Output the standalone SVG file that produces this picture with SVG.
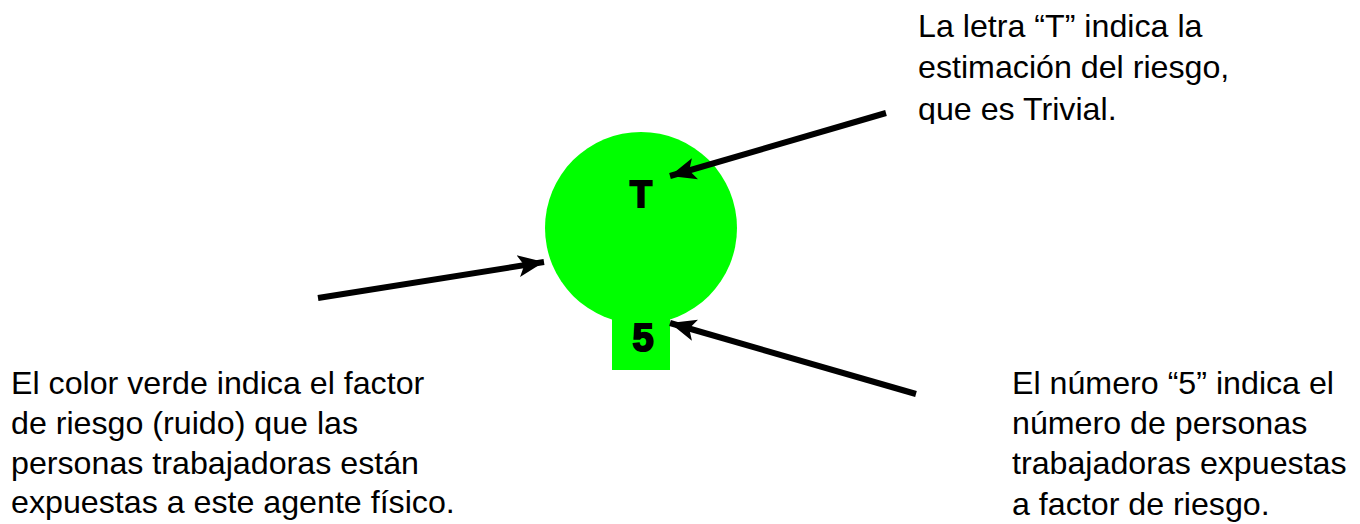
<svg xmlns="http://www.w3.org/2000/svg" width="1360" height="524" viewBox="0 0 1360 524">
<style>
.txt{font-family:"Liberation Sans",Arial,sans-serif;font-size:32.2px;fill:#000}
.big{font-family:"Liberation Sans",Arial,sans-serif;font-size:36px;font-weight:bold;fill:#000;stroke:#000;stroke-width:2;text-anchor:middle}
.conn{stroke:#000;stroke-width:6;fill:none}
.shape{fill:#00ff00}
</style>
<defs>
<marker id="ah" markerUnits="userSpaceOnUse" markerWidth="28" markerHeight="24" refX="26" refY="12" orient="auto">
<path d="M0,1 L26,12 L0,23 L6,12 Z" fill="#000"/>
</marker>
<clipPath id="clipTR"><rect x="900" y="0" width="400" height="124"/></clipPath>
</defs>
<rect width="1360" height="524" fill="#fff"/>
<g id="node-symbol">
<rect class="shape" x="612" y="290" width="58" height="80"/>
<circle class="shape" cx="641" cy="228" r="96"/>
<text class="big" x="641" y="207">T</text>
<text class="big" x="643" y="351" style="font-size:38px">5</text>
</g>
<g id="label-top">
<text class="txt" clip-path="url(#clipTR)"><tspan x="918" y="37">La letra “T” indica la</tspan><tspan x="918" y="78">estimación del riesgo,</tspan><tspan x="918" y="120">que es Trivial.</tspan></text>
</g>
<g id="label-left">
<text class="txt"><tspan x="11" y="394">El color verde indica el factor</tspan><tspan x="11" y="434">de riesgo (ruido) que las</tspan><tspan x="11" y="474">personas trabajadoras están</tspan><tspan x="11" y="513">expuestas a este agente físico.</tspan></text>
</g>
<g id="label-bottom">
<text class="txt"><tspan x="1012" y="394">El número “5” indica el</tspan><tspan x="1012" y="434">número de personas</tspan><tspan x="1012" y="474">trabajadoras expuestas</tspan><tspan x="1012" y="515">a factor de riesgo.</tspan></text>
</g>
<g id="connectors">
<line class="conn" x1="886" y1="113" x2="670" y2="176" marker-end="url(#ah)"/>
<line class="conn" x1="318" y1="298" x2="544" y2="262" marker-end="url(#ah)"/>
<line class="conn" x1="916" y1="394" x2="670" y2="323" marker-end="url(#ah)"/>
</g>
</svg>
